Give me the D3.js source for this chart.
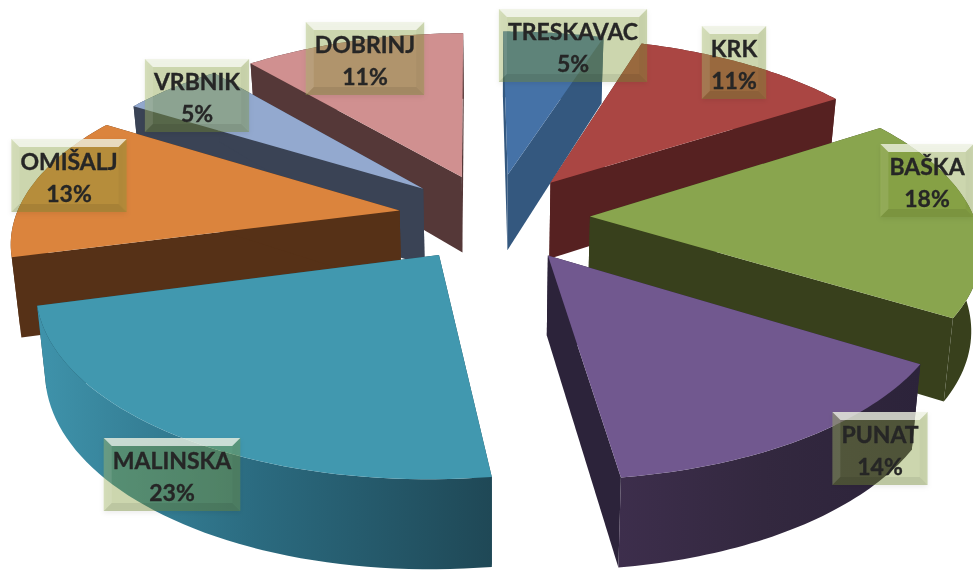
<!DOCTYPE html>
<html>
<head>
<meta charset="utf-8">
<script src="https://cdn.jsdelivr.net/npm/d3@7/dist/d3.min.js"></script>
<style>
html,body{margin:0;padding:0;background:#fff;overflow:hidden}
svg{display:block;filter:blur(0.55px)}
text{font-family:Lato,"Open Sans",sans-serif;font-weight:700;fill:#262626;stroke:#262626;stroke-width:0.35px;text-anchor:middle}
</style>
</head>
<body>
<svg id="chart" width="973" height="570"></svg>
<script>
// Data, clockwise from twelve o'clock
const categories = ["TRESKAVAC","KRK","BAŠKA","PUNAT","MALINSKA","OMIŠALJ","VRBNIK","DOBRINJ"];
const shares = [5,11,18,14,23,13,5,11];

// Styles
const topColors  = ["#4572A7","#AA4643","#89A54E","#71588F","#4198AF","#DB843D","#93A9CF","#D09090"];
const wallStart  = ["#34587f","#562121","#38401c","#3d2e4c","#3f93ab","#563117","#3a4355","#553838"];
const wallMiddle = ["#34587f","#562121","#38401c","#33283f","#2b6b80","#563117","#3a4355","#553838"];
const wallEnd    = ["#34587f","#562121","#38401c","#2c233a","#1f4856","#563117","#3a4355","#553838"];

// Layout of the data-label boxes (centre x, top y), separate from the data
const labelSpots = [[573,9],[734,26],[927,144],[880,412],[172,438],[69,139],[197,59],[365,22]];

// Perspective model of the exploded pie
const explode = 0.25, perspective = 0.153, steps = 48;
const rotation = -0.5*Math.PI/180;
const xScale = d3.scaleLinear().domain([-1,1]).range([494-384,494+384]);
const yScale = d3.scaleLinear().domain([-1,1]).range([217-177,217+177]);
const xc = xScale(0), yc = yScale(0);
const lift = Y => 1/(1-perspective*Y);
const projectTop = (X,Y) => [xc+(xScale(X)-xc)*lift(Y), yc+(yScale(Y)-yc)*lift(Y)];
const projectBase = (X,Y) => {
  const p = projectTop(X,Y);
  return [xc+(p[0]-xc)*0.98, p[1]+78+10*Y];
};

const pie = d3.pie().sort(null).startAngle(rotation).endAngle(rotation+2*Math.PI);
const arcs = pie(shares).map((a,i)=>{
  const mid = (a.startAngle+a.endAngle)/2;
  const ax = explode*Math.sin(mid), ay = -explode*Math.cos(mid);
  const rim = d3.range(steps+1).map(k=>{
    const t = a.startAngle+(a.endAngle-a.startAngle)*k/steps;
    return [ax+Math.sin(t), ay-Math.cos(t)];
  });
  return {i, apex:[ax,ay], rim, depth:ay};
}).sort((p,q)=>d3.ascending(p.depth,q.depth));

const svg = d3.select("#chart");
const defs = svg.append("defs");
const line = d3.line();

arcs.forEach(s=>{
  const g = defs.append("linearGradient").attr("id","wall"+s.i);
  g.append("stop").attr("offset","0%").attr("stop-color",wallStart[s.i]);
  g.append("stop").attr("offset","48%").attr("stop-color",wallMiddle[s.i]);
  g.append("stop").attr("offset","100%").attr("stop-color",wallEnd[s.i]);
});
const shadow = defs.append("filter").attr("id","labelShadow")
  .attr("x","-15%").attr("y","-15%").attr("width","130%").attr("height","135%");
shadow.append("feDropShadow").attr("dx",0).attr("dy",2).attr("stdDeviation",2.5)
  .attr("flood-color","#000").attr("flood-opacity",0.2);

svg.append("g").selectAll("g").data(arcs).join("g").each(function(s){
  const g = d3.select(this);
  // radial walls
  [s.rim[0], s.rim[steps]].forEach(r=>{
    g.append("path")
      .attr("d",line([projectTop(...s.apex),projectTop(...r),projectBase(...r),projectBase(...s.apex)])+"Z")
      .attr("fill",wallEnd[s.i]);
  });
  // outer wall
  const outer = s.rim.map(r=>projectTop(...r)).concat(s.rim.slice().reverse().map(r=>projectBase(...r)));
  g.append("path").attr("d",line(outer)+"Z").attr("fill",`url(#wall${s.i})`);
  // top face
  g.append("path")
    .attr("d",line([projectTop(...s.apex)].concat(s.rim.map(r=>projectTop(...r))))+"Z")
    .attr("fill",topColors[s.i]);
});

// Data labels
const boxH = 73, bevel = 8, padX = 9, fontSize = 23;
svg.append("g").selectAll("g").data(categories).join("g").each(function(name,i){
  const g = d3.select(this);
  const [cx,top] = labelSpots[i];
  const box = g.append("g");
  const t1 = g.append("text").attr("x",cx).attr("y",top+31).attr("font-size",fontSize).text(name);
  g.append("text").attr("x",cx).attr("y",top+63).attr("font-size",fontSize).text(shares[i]+"%");
  const w = t1.node().getComputedTextLength()+2*padX;
  const x0 = cx-w/2, x1 = cx+w/2, y0 = top, y1 = top+boxH;
  box.append("rect").attr("x",x0).attr("y",y0).attr("width",w).attr("height",boxH)
    .attr("fill","#87a33c").attr("fill-opacity",0.36).attr("filter","url(#labelShadow)");
  const facet = (pts,fill,op)=>box.append("path").attr("d",line(pts)+"Z").attr("fill",fill).attr("fill-opacity",op);
  facet([[x0,y0],[x1,y0],[x1-bevel,y0+bevel],[x0+bevel,y0+bevel]],"#fff",0.68);
  facet([[x0,y0],[x0+bevel,y0+bevel],[x0+bevel,y1-bevel],[x0,y1]],"#fff",0.1);
  facet([[x1,y0],[x1-bevel,y0+bevel],[x1-bevel,y1-bevel],[x1,y1]],"#000",0.03);
  facet([[x0,y1],[x0+bevel,y1-bevel],[x1-bevel,y1-bevel],[x1,y1]],"#000",0.08);
});
</script>
</body>
</html>
